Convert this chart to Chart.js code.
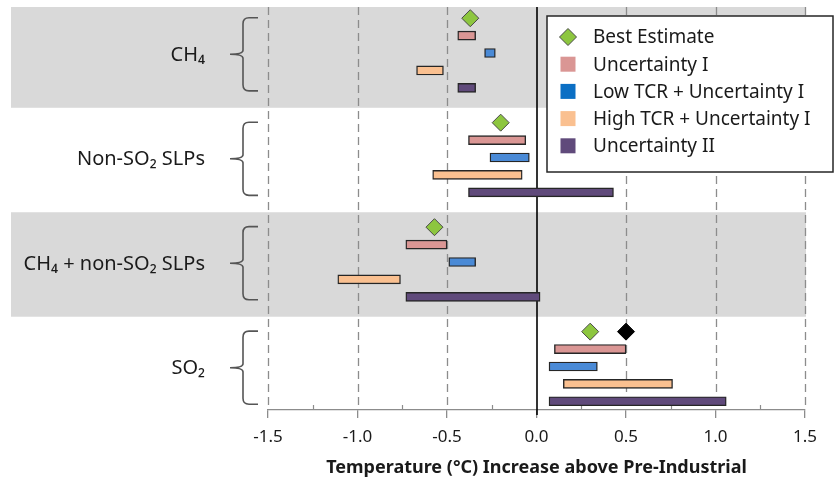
<!DOCTYPE html>
<html>
<head>
<meta charset="utf-8">
<script src="https://cdn.jsdelivr.net/npm/chart.js@4/dist/chart.umd.min.js"></script>
<style>
  html, body { margin: 0; padding: 0; background: #fff; }
  #wrap { width: 835px; height: 483px; position: relative; }
</style>
</head>
<body>
<div id="wrap"><canvas id="c" width="835" height="483"></canvas></div>
<script>
// Pollutant groups, top to bottom
const groups = ['CH₄', 'Non-SO₂ SLPs', 'CH₄ + non-SO₂ SLPs', 'SO₂'];

// Central estimate of warming (°C) per group
const bestEstimate = [-0.37, -0.20, -0.57, 0.30];
// Additional marker shown for SO₂ only
const referenceMark = [null, null, null, 0.50];

// Ranges [low, high] in °C per group
const uncertaintyI  = [[-0.44, -0.34], [-0.38, -0.06], [-0.73, -0.50], [0.10, 0.50]];
const lowTcr        = [[-0.29, -0.23], [-0.26, -0.04], [-0.49, -0.34], [0.07, 0.34]];
const highTcr       = [[-0.67, -0.52], [-0.58, -0.08], [-1.11, -0.76], [0.15, 0.76]];
const uncertaintyII = [[-0.44, -0.34], [-0.38, 0.43], [-0.73, 0.02], [0.07, 1.06]];

// Axis ticks
const xTicks = [-1.5, -1.0, -0.5, 0.0, 0.5, 1.0, 1.5];
const xMinorTicks = [-1.25, -0.75, -0.25, 0.25, 0.75, 1.25];

// Each group gets 5 rows (marker + 4 ranges) and a spacer row
const ROWS_PER_GROUP = 6;
const rowCount = groups.length * ROWS_PER_GROUP - 1;
const rowLabels = Array.from({ length: rowCount }, (_, i) => 'r' + i);

function placeRows(values, slot) {
  const out = new Array(rowCount).fill(null);
  values.forEach((v, g) => { out[g * ROWS_PER_GROUP + slot] = v; });
  return out;
}

const COLORS = {
  best: '#8DC63F',
  uncI: '#DA9694',
  low: '#4A8AD6',
  lowKey: '#0B6FC4',
  high: '#FAC090',
  uncII: '#604A7B'
};

const FONT = "'Noto Sans', 'DejaVu Sans', sans-serif";
Chart.defaults.font.family = FONT;
Chart.defaults.color = '#1a1a1a';

function barSet(label, values, slot, color) {
  return {
    type: 'bar',
    label,
    data: placeRows(values, slot),
    backgroundColor: color,
    borderColor: '#262626',
    borderWidth: 1.4,
    borderSkipped: false,
    barThickness: 9,
    grouped: false,
    skipNull: true
  };
}

function markerSet(label, values, fill, border) {
  return {
    type: 'line',
    label,
    data: placeRows(values, 0),
    showLine: false,
    pointStyle: 'rectRot',
    pointRadius: 8.5,
    pointBackgroundColor: fill,
    pointBorderColor: border,
    pointBorderWidth: 1,
    backgroundColor: fill,
    borderColor: border
  };
}

const decor = {
  id: 'decor',
  beforeDraw(chart) {
    const { ctx, chartArea: ca, scales: { y } } = chart;
    ctx.save();
    ctx.fillStyle = '#D9D9D9';
    // shaded bands behind the 1st and 3rd groups
    [0, 2].forEach(g => {
      const top = g === 0 ? ca.top - 2.5 : y.getPixelForValue(g * ROWS_PER_GROUP - 1) + 2.5;
      const bottom = y.getPixelForValue(g * ROWS_PER_GROUP + 5) + 2.5;
      ctx.fillRect(11, top, ca.right + 1 - 11, bottom - top);
    });
    ctx.restore();
  },
  beforeDatasetsDraw(chart) {
    const { ctx, chartArea: ca, scales: { x } } = chart;
    ctx.save();
    // dashed vertical grid
    ctx.strokeStyle = '#8C8C8C';
    ctx.lineWidth = 1.3;
    ctx.setLineDash([8, 5]);
    xTicks.forEach(v => {
      if (v === 0) return;
      const px = Math.round(x.getPixelForValue(v)) + 0.5;
      ctx.beginPath();
      ctx.moveTo(px, ca.top - 2.5);
      ctx.lineTo(px, ca.bottom);
      ctx.stroke();
    });
    ctx.setLineDash([]);
    // minor ticks above the axis
    ctx.lineWidth = 1.2;
    xMinorTicks.forEach(v => {
      const px = Math.round(x.getPixelForValue(v)) + 0.5;
      ctx.beginPath();
      ctx.moveTo(px, ca.bottom - 5);
      ctx.lineTo(px, ca.bottom);
      ctx.stroke();
    });
    // zero line
    const z = Math.round(x.getPixelForValue(0));
    ctx.strokeStyle = '#000';
    ctx.lineWidth = 1.6;
    ctx.beginPath();
    ctx.moveTo(z, ca.top - 2.5);
    ctx.lineTo(z, ca.bottom + 5);
    ctx.stroke();
    ctx.restore();
  },
  afterDraw(chart) {
    const { ctx, scales: { y } } = chart;
    ctx.save();

    // group labels and braces
    groups.forEach((name, g) => {
      const top = y.getPixelForValue(g * ROWS_PER_GROUP) - 0.5;
      const bottom = y.getPixelForValue(g * ROWS_PER_GROUP + 4) + 3;
      const mid = (top + bottom) / 2;
      const xv = 243, xh = 258, xp = 230, r = 6;
      ctx.strokeStyle = '#555';
      ctx.lineWidth = 1.6;
      ctx.beginPath();
      ctx.moveTo(xh, top);
      ctx.lineTo(xv + r, top);
      ctx.quadraticCurveTo(xv, top, xv, top + r);
      ctx.lineTo(xv, mid - 4);
      ctx.quadraticCurveTo(xv, mid, xp, mid);
      ctx.quadraticCurveTo(xv, mid, xv, mid + 4);
      ctx.lineTo(xv, bottom - r);
      ctx.quadraticCurveTo(xv, bottom, xv + r, bottom);
      ctx.lineTo(xh, bottom);
      ctx.stroke();

      ctx.fillStyle = '#1a1a1a';
      ctx.font = '20px ' + FONT;
      ctx.textAlign = 'right';
      ctx.textBaseline = 'middle';
      ctx.fillText(name, 205, mid + 1);
    });

    // legend box
    const lg = { x: 547, y: 16, w: 286, h: 156 };
    ctx.fillStyle = '#fff';
    ctx.fillRect(lg.x, lg.y, lg.w, lg.h);
    ctx.strokeStyle = '#262626';
    ctx.lineWidth = 1.5;
    ctx.strokeRect(lg.x, lg.y, lg.w, lg.h);

    const entries = [
      { label: 'Best Estimate', color: COLORS.best, diamond: true },
      { label: 'Uncertainty I', color: COLORS.uncI },
      { label: 'Low TCR + Uncertainty I', color: COLORS.lowKey },
      { label: 'High TCR + Uncertainty I', color: COLORS.high },
      { label: 'Uncertainty II', color: COLORS.uncII }
    ];
    ctx.font = '19px ' + FONT;
    ctx.textAlign = 'left';
    ctx.textBaseline = 'middle';
    entries.forEach((e, i) => {
      const cy = lg.y + 21 + i * 27.2;
      const cx = 568;
      if (e.diamond) {
        ctx.beginPath();
        ctx.moveTo(cx - 8.5, cy);
        ctx.lineTo(cx, cy - 8.5);
        ctx.lineTo(cx + 8.5, cy);
        ctx.lineTo(cx, cy + 8.5);
        ctx.closePath();
        ctx.fillStyle = e.color;
        ctx.fill();
        ctx.strokeStyle = '#4a4a4a';
        ctx.lineWidth = 1;
        ctx.stroke();
      } else {
        ctx.fillStyle = e.color;
        ctx.fillRect(cx - 7.5, cy - 7.5, 15, 15);
      }
      ctx.fillStyle = '#1a1a1a';
      ctx.fillText(e.label, 593, cy + 1);
    });
    ctx.restore();
  }
};

new Chart(document.getElementById('c'), {
  type: 'bar',
  data: {
    labels: rowLabels,
    datasets: [
      markerSet('Best Estimate', bestEstimate, COLORS.best, '#4a4a4a'),
      markerSet('Reference', referenceMark, '#000', '#000'),
      barSet('Uncertainty I', uncertaintyI, 1, COLORS.uncI),
      barSet('Low TCR + Uncertainty I', lowTcr, 2, COLORS.low),
      barSet('High TCR + Uncertainty I', highTcr, 3, COLORS.high),
      barSet('Uncertainty II', uncertaintyII, 4, COLORS.uncII)
    ]
  },
  options: {
    indexAxis: 'y',
    responsive: false,
    animation: false,
    events: [],
    layout: { padding: { left: 268, right: 30, top: 9, bottom: 0 } },
    plugins: {
      legend: { display: false },
      tooltip: { enabled: false }
    },
    scales: {
      y: {
        type: 'category',
        display: false,
        offset: true
      },
      x: {
        type: 'linear',
        min: xTicks[0],
        max: xTicks[xTicks.length - 1],
        afterBuildTicks(scale) {
          scale.ticks = xTicks.map(v => ({ value: v }));
        },
        afterFit(scale) { scale.height = 73; },
        ticks: {
          callback: v => Number(v).toFixed(1),
          font: { size: 17 },
          color: '#1a1a1a',
          padding: 9,
          maxRotation: 0
        },
        grid: {
          drawOnChartArea: false,
          drawTicks: true,
          tickLength: 8,
          color: '#8C8C8C',
          lineWidth: 1.3
        },
        border: { display: true, color: '#8C8C8C', width: 1.3 },
        title: {
          display: true,
          text: 'Temperature (°C) Increase above Pre-Industrial',
          font: { size: 18, weight: 'bold' },
          color: '#1a1a1a',
          padding: { top: 0, bottom: 4 }
        }
      }
    }
  },
  plugins: [decor]
});
</script>
</body>
</html>
